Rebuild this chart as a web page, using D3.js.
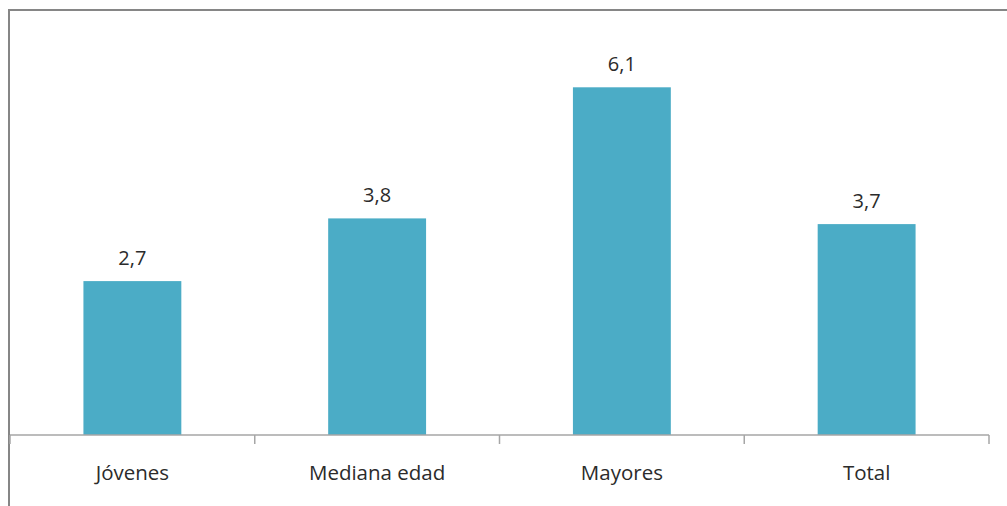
<!DOCTYPE html>
<html>
<head>
<meta charset="utf-8">
<script src="https://cdn.jsdelivr.net/npm/d3@7"></script>
<style>
  html, body { margin: 0; padding: 0; background: #fff; }
  svg { display: block; }
  text { font-family: "Open Sans", sans-serif; fill: #2b2b2b; }
</style>
</head>
<body>
<svg id="chart" width="1007" height="506"></svg>
<script>
const categories = ["Jóvenes", "Mediana edad", "Mayores", "Total"];
const values = [2.7, 3.8, 6.1, 3.7];
const valueLabels = ["2,7", "3,8", "6,1", "3,7"];

const svg = d3.select("#chart");
const plot = { left: 10, right: 989, top: 36, bottom: 435 };

// outer chart border (extends past right/bottom edge)
svg.append("rect")
  .attr("x", 9).attr("y", 10)
  .attr("width", 1100).attr("height", 600)
  .attr("fill", "none")
  .attr("stroke", "#868686")
  .attr("stroke-width", 2);

const x = d3.scaleBand().domain(categories).range([plot.left, plot.right]).padding(0);
const y = d3.scaleLinear().domain([0, 7]).range([plot.bottom, plot.top]);

const barFrac = 0.4;
const bw = x.bandwidth() * barFrac;

svg.append("g").selectAll("rect")
  .data(categories)
  .join("rect")
  .attr("x", (d) => x(d) + (x.bandwidth() - bw) / 2)
  .attr("y", (d, i) => y(values[i]))
  .attr("width", bw)
  .attr("height", (d, i) => y(0) - y(values[i]))
  .attr("fill", "#4BACC6");

// value labels
svg.append("g").selectAll("text")
  .data(categories)
  .join("text")
  .attr("x", (d) => x(d) + x.bandwidth() / 2)
  .attr("y", (d, i) => y(values[i]) - 16)
  .attr("text-anchor", "middle")
  .style("font-size", "20px")
  .text((d, i) => valueLabels[i]);

// x axis
const axis = d3.axisBottom(x).tickSize(0).tickPadding(0).tickFormat(() => "");
const gx = svg.append("g").attr("transform", `translate(0,${plot.bottom})`).call(axis);
gx.select(".domain").remove();
gx.selectAll(".tick").remove();
gx.append("line")
  .attr("x1", plot.left).attr("x2", plot.right)
  .attr("stroke", "#a6a6a6").attr("stroke-width", 1.5);
const boundaries = categories.map((d) => x(d)).concat([plot.right]);
gx.selectAll(".btick")
  .data(boundaries)
  .join("line")
  .attr("class", "btick")
  .attr("x1", (d) => d).attr("x2", (d) => d)
  .attr("y1", 0).attr("y2", 9)
  .attr("stroke", "#a6a6a6").attr("stroke-width", 1.5);
gx.selectAll(".clabel")
  .data(categories)
  .join("text")
  .attr("class", "clabel")
  .attr("x", (d) => x(d) + x.bandwidth() / 2)
  .attr("y", 45)
  .attr("text-anchor", "middle")
  .style("font-size", "20.5px")
  .text((d) => d);
</script>
</body>
</html>
